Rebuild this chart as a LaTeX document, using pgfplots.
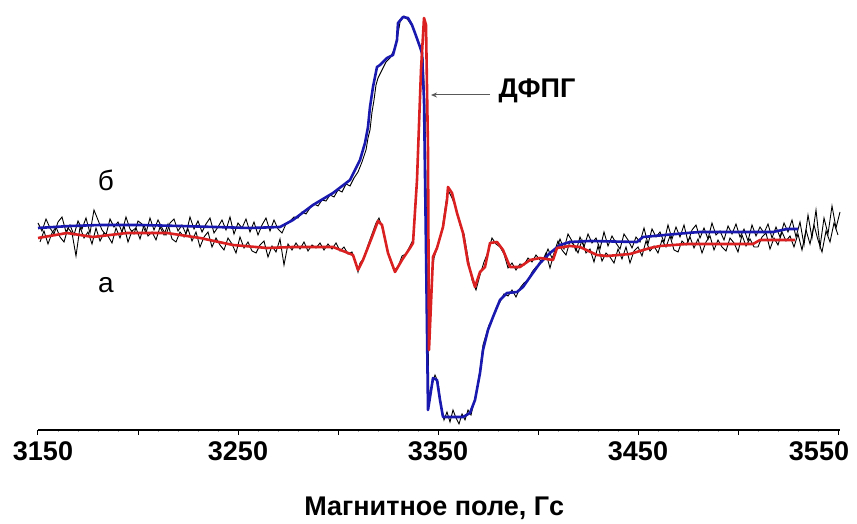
\documentclass[border=0pt]{standalone}
\usepackage{pgfplots}
\pgfplotsset{compat=1.18}
\usepackage{pgfplotstable}
\usepackage{fontspec}
\setmainfont{Liberation Sans}
\usetikzlibrary{arrows.meta}
\definecolor{specblue}{RGB}{25,25,175}
\definecolor{specred}{RGB}{218,32,32}

\pgfplotstableread{
x y
3150 202
3166 204
3181 205
3201 205
3221 204
3238.5 203
3256 202
3271 203
3277.5 210
3287.5 225
3297.5 237
3306 250
3311 270
3313.5 287
3315 303
3316 323
3317.5 343
3319.5 363
3321 365
3324.5 372
3327.5 375
3329.5 390
3330 407
3332.5 413
3335 412
3337 405
3338.5 397
3341 383
3342 377
3343 330
3344 180
3345 20
3347.5 52
3349.5 50
3351 30
3352.5 13
3356 13
3362.5 13
3366 17
3368.5 30
3371 57
3372.5 80
3375 100
3377.5 113
3381 130
3384.5 137
3389.5 138
3392.5 143
3396 153
3401 167
3406 177
3411 185
3416 188
3426 189
3449.5 188
3452.5 193
3474.5 197
3481 198
3517.5 198
3524.5 201
3530 201
}\bluecurve

\pgfplotstableread{
x y
3150 192
3164.5 197
3177.5 193
3194.5 197
3214.5 197
3231 192
3247.5 185
3264.5 182
3277.5 183
3297.5 183
3307.5 175
3310 160
3312.5 170
3317 193
3320 209
3322 205
3325 177
3328.5 158
3332 170
3336 182
3337.5 187
3339.5 250
3341.5 360
3343 412
3344 405
3345 280
3345.5 80
3347 150
3347.5 173
3349.5 182
3352.5 203
3354.5 230
3355 243
3357 237
3359.5 217
3362.5 197
3365 167
3368.5 143
3371 158
3373.5 163
3376 187
3379.5 188
3382.5 180
3386 163
3391 163
3396 170
3401 172
3407.5 170
3409.5 182
3416 184
3421 183
3429.5 175
3434.5 174
3446 176
3456 182
3461 184
3474.5 186
3507.5 186
3511 190
3528.5 190
}\redcurve

\pgfplotstableread{
x y
3150 207
3152 199
3154 211
3156 202
3158 196
3160 208
3162 213
3164 198
3166 205
3168 195
3170 209
3172 201
3174 212
3176 197
3178 220
3180 210
3182 200
3184 195
3186 211
3188 203
3190 208
3192 198
3194 213
3196 201
3198 196
3200 209
3202 206
3204 197
3206 212
3208 200
3210 210
3212 202
3214 195
3216 207
3218 211
3220 199
3222 205
3224 196
3226 213
3228 201
3230 209
3232 198
3234 206
3236 212
3238 197
3240 203
3242 210
3244 200
3246 213
3248 196
3250 207
3252 202
3254 211
3256 198
3258 208
3260 195
3262 205
3264 212
3266 199
3268 210
3270 201
3272 197
3274 206
3276 209
3278 213
3280 212
3282 218
3284 216
3286 222
3288 226
3290 224
3292 230
3294 229
3296 235
3298 233
3300 240
3302 238
3304 246
3306 244
3308 252
3310 258
3312 268
3314 280
3315 292
3316 300
3317 318
3318 330
3319 345
3320 352
3322 360
3324 368
3326 372
3328 380
3330 396
3331 408
3333 414
3335 410
3337 404
3339 394
3341 382
3342.5 372
3343.5 320
3344.5 170
3345.5 25
3347 45
3348.5 55
3350 48
3351.5 25
3353 10
3354.5 18
3356 8
3357.5 20
3359 12
3360.5 6
3362 16
3363.5 10
3365 20
3366.5 15
3368 28
3369.5 40
3371 60
3372.5 85
3374 95
3375.5 105
3377 110
3379 122
3381 128
3383 136
3385 134
3387 140
3389 133
3391 142
3393 147
3395 150
3397 158
3399 163
3401 166
3403 171
3405 181
3407 172
3409 179
3411 191
3413 181
3415 196
3417 189
3419 179
3421 193
3423 183
3425 196
3427 187
3429 192
3431 181
3433 198
3435 184
3437 194
3439 187
3441 181
3443 196
3445 190
3447 182
3449 193
3451 188
3453 202
3455 186
3457 201
3459 193
3461 198
3463 188
3465 205
3467 191
3469 203
3471 193
3473 205
3475 188
3477 200
3479 205
3481 192
3483 202
3485 191
3487 207
3489 195
3491 199
3493 190
3495 204
3497 196
3499 206
3501 193
3503 201
3505 189
3507 205
3509 194
3511 203
3513 197
3515 206
3517 192
3519 203
3521 193
3523 207
3525 198
3527 210
3529 193
3531 208
3533 185
3535 215
3537 192
3539 220
3541 183
3543 212
3545 196
3547 224
3549 202
3551 218
}\blacknoiseb

\pgfplotstableread{
x y
3151 188
3153 199
3155 186
3157 197
3159 203
3161 193
3163 188
3165 202
3167 197
3169 174
3171 203
3173 192
3175 198
3177 186
3179 202
3181 189
3183 197
3185 194
3187 187
3189 202
3191 192
3193 204
3195 188
3197 199
3199 202
3201 191
3203 205
3205 194
3207 198
3209 190
3211 203
3213 195
3215 206
3217 191
3219 188
3221 198
3223 193
3225 201
3227 189
3229 198
3231 183
3233 193
3235 198
3237 183
3239 192
3241 185
3243 180
3245 192
3247 186
3249 177
3251 193
3253 182
3255 188
3257 179
3259 177
3261 185
3263 189
3265 173
3267 184
3269 178
3271 191
3273 165
3275 186
3277 180
3279 187
3281 181
3283 188
3285 179
3287 185
3289 182
3291 187
3293 180
3295 186
3297 181
3299 187
3301 179
3303 183
3305 176
3307 178
3309 166
3310 158
3311 167
3313 172
3315 185
3317 196
3319 207
3320.5 212
3322 203
3324 186
3326 170
3328 160
3330 163
3332 174
3334 176
3336 184
3337.5 190
3339.5 250
3341.5 360
3343 410
3344 404
3345 280
3345.5 85
3347 155
3348 172
3350 185
3352 200
3354 228
3355 240
3357 232
3359 222
3361 205
3363 196
3365 172
3367 150
3369 140
3371 155
3373 168
3375 178
3377 192
3379 186
3381 183
3383 176
3385 162
3387 167
3389 160
3391 166
3393 165
3395 172
3397 168
3399 175
3401 170
3402 168
3404 177
3406 162
3408 177
3410 189
3412 180
3414 175
3416 189
3418 185
3420 177
3422 190
3424 177
3426 181
3428 168
3430 184
3432 169
3434 177
3436 173
3438 167
3440 181
3442 171
3444 183
3446 167
3448 179
3450 183
3452 174
3454 189
3456 179
3458 184
3460 177
3462 190
3464 183
3466 194
3468 180
3470 178
3472 189
3474 185
3476 193
3478 182
3480 191
3482 177
3484 188
3486 194
3488 180
3490 190
3492 183
3494 179
3496 192
3498 187
3500 178
3502 195
3504 184
3506 191
3508 183
3510 183
3512 193
3514 197
3516 181
3518 192
3520 185
3522 198
3524 189
3526 194
3528 183
3530 196
3532 180
3534 200
3536 186
3538 205
3540 190
3542 178
3544 199
3546 188
3548 207
3550 195
}\blacknoisea

\begin{document}
\begin{tikzpicture}
\useasboundingbox (0,0) rectangle (428.5pt,262pt);
\begin{axis}[
  at={(19pt,47pt)}, anchor=south west,
  scale only axis,
  width=401pt, height=210pt,
  xmin=3150, xmax=3551,
  ymin=0, ymax=420,
  axis x line*=bottom,
  axis y line=none,
  x axis line style={line width=0.9pt, -},
  xtick={3150,3200,...,3550},
  xticklabels={\hspace*{5pt}3150,,\raisebox{-1.5pt}{3250},,\raisebox{-2.5pt}{3350},,\raisebox{-1pt}{3450},,3550\hspace*{19pt}},
  minor x tick num=4,
  xtick align=outside,
  major tick length=2.5pt,
  minor tick length=1pt,
  every tick/.style={black, line width=0.5pt},
  minor tick style={gray!70},
  xticklabel style={font=\fontsize{13.5}{15}\selectfont\bfseries, inner sep=0pt, yshift=-3pt},
  xlabel={Магнитное поле, Гс},
  xlabel style={font=\fontsize{13.5}{15}\selectfont\bfseries, at={(axis description cs:0.494,0)}, anchor=center, yshift=-39pt},
  clip=false,
]
\addplot[black, line width=0.45pt] table {\blacknoiseb};
\addplot[black, line width=0.45pt] table {\blacknoisea};
\addplot[specblue, line width=1.3pt, line join=round] table {\bluecurve};
\addplot[specred, line width=1.3pt, line join=round] table {\redcurve};
\draw[gray!70!black, line width=0.5pt, -{Stealth[length=3pt,width=2.5pt]}] (axis cs:3376,335) -- (axis cs:3346.5,335);
\node[font=\fontsize{13.5}{15}\selectfont\bfseries, anchor=center] at (axis cs:3399.5,339) {ДФПГ};
\node[font=\fontsize{14}{15}\selectfont, anchor=center] at (axis cs:3184,250) {б};
\node[font=\fontsize{14}{15}\selectfont, anchor=center] at (axis cs:3184,145) {а};
\end{axis}
\end{tikzpicture}
\end{document}
